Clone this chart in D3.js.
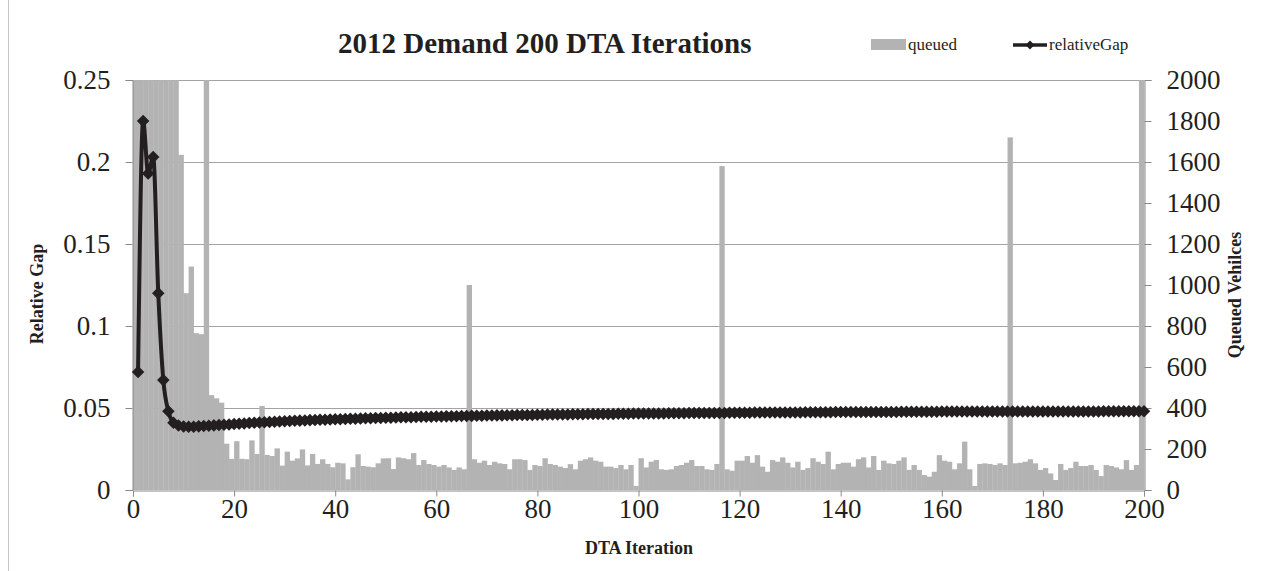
<!DOCTYPE html>
<html>
<head>
<meta charset="utf-8">
<script src="https://cdn.jsdelivr.net/npm/d3@7/dist/d3.min.js"></script>
<style>
  body { margin: 0; background: #fff; }
  svg text { font-family: "Liberation Serif", "Times New Roman", serif; fill: #231f20; }
</style>
</head>
<body>
<svg id="chart" width="1268" height="571"></svg>
<script>
// DTA iteration numbers (categories)
const iterations = d3.range(1, 201);

// Queued vehicles per iteration (secondary axis); bars above 2000 are cut at the plot top
const queued = [
  2400,2400,2400,2400,2400,2400,2400,2400,2400,1635,
  960,1090,765,760,2400,463,447,426,226,152,
  238,152,150,242,176,410,171,166,203,119,
  187,143,154,198,120,176,127,150,127,111,
  133,130,52,111,174,117,114,111,130,154,
  155,102,159,155,150,180,122,146,127,122,
  114,122,110,98,110,101,1000,150,133,143,
  122,138,130,127,101,150,150,146,98,122,
  117,155,127,122,114,107,126,101,143,150,
  159,143,138,114,114,107,122,101,122,20,
  155,110,138,146,101,98,101,117,122,133,
  146,117,117,101,98,127,1580,101,94,143,
  143,166,133,170,114,89,146,138,159,133,
  110,138,98,107,155,138,127,187,101,127,
  133,133,114,150,159,110,166,98,143,130,
  127,143,159,98,122,98,73,65,89,170,
  143,138,101,130,236,101,20,127,130,127,
  122,130,122,1720,130,133,138,150,130,98,
  107,81,49,127,98,107,138,117,117,122,
  98,68,122,117,110,101,146,98,122,2400
];

// Relative gap per iteration (primary axis)
const relativeGap = [
  0.072,0.225,0.193,0.203,0.120,0.067,0.048,0.0410,0.0393,0.0387,
  0.0385,0.0386,0.0388,0.0390,0.0392,0.0394,0.0396,0.0398,0.0400,0.0402,
  0.0404,0.0406,0.0408,0.0410,0.0412,0.0413,0.0415,0.0416,0.0418,0.0419,
  0.0421,0.0422,0.0423,0.0424,0.0426,0.0427,0.0428,0.0429,0.0430,0.0431,
  0.0432,0.0433,0.0434,0.0435,0.0436,0.0437,0.0438,0.0439,0.0439,0.0440,
  0.0441,0.0442,0.0443,0.0443,0.0444,0.0445,0.0446,0.0446,0.0447,0.0448,
  0.0448,0.0449,0.0450,0.0450,0.0451,0.0451,0.0452,0.0453,0.0453,0.0454,
  0.0454,0.0455,0.0455,0.0456,0.0456,0.0457,0.0457,0.0458,0.0458,0.0459,
  0.0459,0.0460,0.0460,0.0460,0.0461,0.0461,0.0462,0.0462,0.0462,0.0463,
  0.0463,0.0463,0.0464,0.0464,0.0464,0.0465,0.0465,0.0465,0.0466,0.0466,
  0.0466,0.0466,0.0467,0.0467,0.0467,0.0468,0.0468,0.0468,0.0468,0.0469,
  0.0469,0.0469,0.0469,0.0470,0.0470,0.0470,0.0470,0.0471,0.0471,0.0471,
  0.0471,0.0471,0.0472,0.0472,0.0472,0.0472,0.0472,0.0473,0.0473,0.0473,
  0.0473,0.0473,0.0474,0.0474,0.0474,0.0474,0.0474,0.0474,0.0475,0.0475,
  0.0475,0.0475,0.0475,0.0475,0.0476,0.0476,0.0476,0.0476,0.0476,0.0476,
  0.0476,0.0477,0.0477,0.0477,0.0477,0.0477,0.0477,0.0477,0.0477,0.0478,
  0.0478,0.0478,0.0478,0.0478,0.0478,0.0478,0.0478,0.0478,0.0478,0.0478,
  0.0478,0.0478,0.0478,0.0478,0.0479,0.0479,0.0479,0.0479,0.0479,0.0479,
  0.0479,0.0479,0.0479,0.0479,0.0479,0.0479,0.0479,0.0479,0.0479,0.0479,
  0.0479,0.0480,0.0480,0.0480,0.0480,0.0480,0.0480,0.0480,0.0480,0.0480
];

// Tick values and labels
const xTicks = [0, 20, 40, 60, 80, 100, 120, 140, 160, 180, 200];
const gapTicks = [0, 0.05, 0.1, 0.15, 0.2, 0.25];
const gapTickLabels = ["0", "0.05", "0.1", "0.15", "0.2", "0.25"];
const queuedTicks = [0, 200, 400, 600, 800, 1000, 1200, 1400, 1600, 1800, 2000];

const titleText = "2012 Demand 200 DTA Iterations";
const legendLabels = ["queued", "relativeGap"];

// Plot frame
const plot = { left: 133, right: 1144, top: 80, bottom: 490 };
const barColor = "#b3b3b3";
const lineColor = "#231f20";
const gridColor = "#a3a3a3";
const axisColor = "#8a8a8a";

const svg = d3.select("#chart");
svg.append("rect").attr("width", 1268).attr("height", 571).attr("fill", "#fff");

// Chart-area border on the left
svg.append("line")
  .attr("x1", 8.5).attr("x2", 8.5).attr("y1", 0).attr("y2", 571)
  .attr("stroke", "#c6c6c6").attr("stroke-width", 1);

const x = d3.scaleLinear().domain([0, 200]).range([plot.left, plot.right]);
const xBand = d3.scaleBand().domain(iterations).range([plot.left, plot.right]).padding(0);
const yGap = d3.scaleLinear().domain([0, 0.25]).range([plot.bottom, plot.top]);
const yQueued = d3.scaleLinear().domain([0, 2000]).range([plot.bottom, plot.top]);

// Horizontal gridlines
svg.append("g").selectAll("line")
  .data(gapTicks.filter(d => d > 0))
  .join("line")
  .attr("x1", plot.left).attr("x2", plot.right)
  .attr("y1", d => Math.round(yGap(d)) + 0.5).attr("y2", d => Math.round(yGap(d)) + 0.5)
  .attr("stroke", gridColor).attr("stroke-width", 1);

// Clip for the bars
svg.append("clipPath").attr("id", "plotClip")
  .append("rect")
  .attr("x", plot.left).attr("y", plot.top)
  .attr("width", plot.right - plot.left + 2).attr("height", plot.bottom - plot.top);

// Queued bars
svg.append("g").attr("clip-path", "url(#plotClip)")
  .selectAll("rect")
  .data(iterations)
  .join("rect")
  .attr("x", d => xBand(d))
  .attr("width", xBand.bandwidth() + 0.3)
  .attr("y", (d, i) => yQueued(queued[i]))
  .attr("height", (d, i) => plot.bottom - yQueued(queued[i]))
  .attr("fill", barColor);

// Axes
function styleAxis(g) {
  g.selectAll(".domain").attr("stroke", axisColor).attr("stroke-width", 1);
  g.selectAll(".tick line").attr("stroke", axisColor).attr("stroke-width", 1);
  g.selectAll(".tick text").attr("font-size", 27).attr("fill", "#231f20")
    .style("font-family", "'Liberation Serif', 'Times New Roman', serif");
}

svg.append("g")
  .attr("transform", `translate(${plot.left - 0.5},0)`)
  .call(d3.axisLeft(yGap).tickValues(gapTicks)
    .tickFormat((d, i) => gapTickLabels[i]).tickSizeOuter(0).tickSize(7).tickPadding(15))
  .call(styleAxis);

svg.append("g")
  .attr("transform", `translate(${plot.right + 0.5},0)`)
  .call(d3.axisRight(yQueued).tickValues(queuedTicks)
    .tickFormat(d3.format("d")).tickSizeOuter(0).tickSize(7).tickPadding(15))
  .call(styleAxis);

svg.append("g")
  .attr("transform", `translate(0,${plot.bottom + 0.5})`)
  .call(d3.axisBottom(x).tickValues(xTicks)
    .tickFormat(d3.format("d")).tickSizeOuter(0).tickSize(6).tickPadding(2))
  .call(styleAxis);

// Relative gap line with diamond markers
const lineGen = d3.line()
  .x((d, i) => x(iterations[i]))
  .y(d => yGap(d))
  .curve(d3.curveMonotoneX);

svg.append("path")
  .datum(relativeGap)
  .attr("d", lineGen)
  .attr("fill", "none")
  .attr("stroke", lineColor)
  .attr("stroke-width", 4)
  .attr("stroke-linejoin", "round");

const diamond = d3.symbol().type(d3.symbolDiamond2).size(100);
svg.append("g").selectAll("path")
  .data(relativeGap)
  .join("path")
  .attr("transform", (d, i) => `translate(${x(iterations[i])},${yGap(d)})`)
  .attr("d", diamond)
  .attr("fill", lineColor);

// Title
svg.append("text")
  .attr("x", 338).attr("y", 53)
  .attr("font-size", 29).attr("font-weight", "bold")
  .text(titleText);

// Axis titles
svg.append("text")
  .attr("transform", "translate(43,294) rotate(-90)")
  .attr("text-anchor", "middle")
  .attr("font-size", 18).attr("font-weight", "bold")
  .text("Relative Gap");

svg.append("text")
  .attr("transform", "translate(1241,295) rotate(-90)")
  .attr("text-anchor", "middle")
  .attr("font-size", 18).attr("font-weight", "bold")
  .text("Queued Vehilces");

svg.append("text")
  .attr("x", 639).attr("y", 554)
  .attr("text-anchor", "middle")
  .attr("font-size", 18).attr("font-weight", "bold")
  .text("DTA Iteration");

// Legend
const legendDiamond = d3.symbol().type(d3.symbolDiamond2).size(50);
const legend = svg.append("g");
legend.append("rect")
  .attr("x", 871).attr("y", 39).attr("width", 35).attr("height", 11)
  .attr("fill", barColor);
legend.append("text")
  .attr("x", 908).attr("y", 50)
  .attr("font-size", 17)
  .text(legendLabels[0]);
legend.append("line")
  .attr("x1", 1013).attr("x2", 1047).attr("y1", 45).attr("y2", 45)
  .attr("stroke", lineColor).attr("stroke-width", 3.5);
legend.append("path")
  .attr("transform", "translate(1030,45)")
  .attr("d", legendDiamond)
  .attr("fill", lineColor);
legend.append("text")
  .attr("x", 1049).attr("y", 50)
  .attr("font-size", 17)
  .text(legendLabels[1]);
</script>
</body>
</html>
